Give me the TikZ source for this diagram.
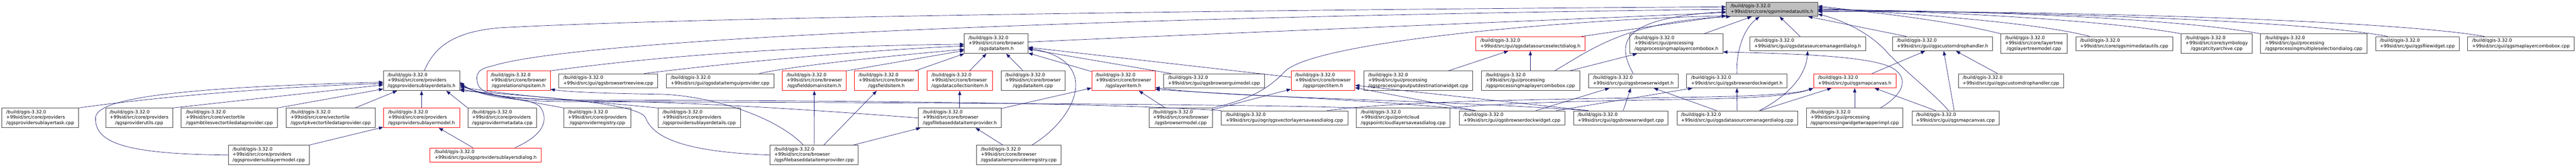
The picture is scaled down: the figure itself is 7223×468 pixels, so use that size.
\documentclass[tikz,border=0pt]{standalone}
\usepackage{fontspec}
\setmainfont{DejaVu Sans}
\usepackage{tikz}
\usetikzlibrary{arrows.meta}
\definecolor{edgeblue}{HTML}{191970}
\definecolor{boxgrey}{HTML}{404040}
\definecolor{focusgrey}{HTML}{BFBFBF}
\newcommand{\fthree}[2]{\begin{tabular}{@{}l@{}}/build/qgis-3.32.0\\#1\\\multicolumn{1}{@{}c@{}}{#2}\end{tabular}}
\newcommand{\ftwo}[1]{\begin{tabular}{@{}l@{}}/build/qgis-3.32.0\\#1\end{tabular}}

\begin{document}
\begin{tikzpicture}[x=1pt, y=-1pt, main/.style={draw=boxgrey, fill=white, rectangle, line width=1pt, inner xsep=10pt, inner ysep=0pt, font=\fontsize{12.8}{15}\selectfont}, tall/.style={minimum height=55pt}, low/.style={minimum height=40pt}, trunc/.style={draw=red}, focus/.style={fill=focusgrey}, n/.style={-{Triangle[length=12pt, width=9pt]}, draw=edgeblue, line width=1pt}]
            \useasboundingbox (0,0) rectangle (7223,468);
            % nodes
            \node[main, low, focus, minimum width=257pt] (a) at (4968.5,26) {\ftwo{+99sid/src/core/qgsmimedatautils.h}};

            \node[main, tall, minimum width=179pt] (b1) at (2793.5,122.5) {\fthree{+99sid/src/core/browser}{/qgsdataitem.h}};
            \node[main, low, trunc, minimum width=306pt] (b2) at (4291,122.5) {\ftwo{+99sid/src/gui/qgsdatasourceselectdialog.h}};
            \node[main, tall, minimum width=261pt] (b3) at (4700.5,122.5) {\fthree{+99sid/src/gui/processing}{/qgsprocessingmaplayercombobox.h}};
            \node[main, low, minimum width=325pt] (b4) at (5068.5,122.5) {\ftwo{+99sid/src/gui/qgsdatasourcemanagerdialog.h}};
            \node[main, low, minimum width=279pt] (b5) at (5446.5,122.5) {\ftwo{+99sid/src/gui/qgscustomdrophandler.h}};
            \node[main, tall, minimum width=186pt] (b6) at (5703,122.5) {\fthree{+99sid/src/core/layertree}{/qgslayertreemodel.cpp}};
            \node[main, low, minimum width=272pt] (b7) at (5956,122.5) {\ftwo{+99sid/src/core/qgsmimedatautils.cpp}};
            \node[main, tall, minimum width=199pt] (b8) at (6215.5,122.5) {\fthree{+99sid/src/core/symbology}{/qgscptcityarchive.cpp}};
            \node[main, tall, minimum width=299pt] (b9) at (6487.5,122.5) {\fthree{+99sid/src/gui/processing}{/qgsprocessingmultipleselectiondialog.cpp}};
            \node[main, low, minimum width=234pt] (b10) at (6778,122.5) {\ftwo{+99sid/src/gui/qgsfilewidget.cpp}};
            \node[main, low, minimum width=299pt] (b11) at (7068.5,122.5) {\ftwo{+99sid/src/gui/qgsmaplayercombobox.cpp}};

            \node[main, tall, minimum width=214pt] (c1) at (1182,226.5) {\fthree{+99sid/src/core/providers}{/qgsprovidersublayerdetails.h}};
            \node[main, tall, trunc, minimum width=178pt] (c2) at (1454,226.5) {\fthree{+99sid/src/core/browser}{/qgsrelationshipsitem.h}};
            \node[main, low, minimum width=277pt] (c3) at (1705.5,226.5) {\ftwo{+99sid/src/gui/qgsbrowsertreeview.cpp}};
            \node[main, low, minimum width=302pt] (c4) at (2019,226.5) {\ftwo{+99sid/src/gui/qgsdataitemguiprovider.cpp}};
            \node[main, tall, trunc, minimum width=179pt] (c5) at (2283.5,226.5) {\fthree{+99sid/src/core/browser}{/qgsfielddomainsitem.h}};
            \node[main, tall, trunc, minimum width=179pt] (c6) at (2485.5,226.5) {\fthree{+99sid/src/core/browser}{/qgsfieldsitem.h}};
            \node[main, tall, trunc, minimum width=184pt] (c7) at (2691,226.5) {\fthree{+99sid/src/core/browser}{/qgsdatacollectionitem.h}};
            \node[main, tall, minimum width=179pt] (c8) at (2896.5,226.5) {\fthree{+99sid/src/core/browser}{/qgsdataitem.cpp}};
            \node[main, tall, trunc, minimum width=178pt] (c9) at (3150,226.5) {\fthree{+99sid/src/core/browser}{/qgslayeritem.h}};
            \node[main, low, minimum width=282pt] (c10) at (3404,226.5) {\ftwo{+99sid/src/gui/qgsbrowserguimodel.cpp}};
            \node[main, tall, trunc, minimum width=179pt] (c11) at (3709.5,226.5) {\fthree{+99sid/src/core/browser}{/qgsprojectitem.h}};
            \node[main, tall, minimum width=305pt] (c12) at (3976.5,226.5) {\fthree{+99sid/src/gui/processing}{/qgsprocessingoutputdestinationwidget.cpp}};
            \node[main, tall, minimum width=276pt] (c13) at (4291,226.5) {\fthree{+99sid/src/gui/processing}{/qgsprocessingmaplayercombobox.cpp}};
            \node[main, low, minimum width=251pt] (c14) at (4579.5,226.5) {\ftwo{+99sid/src/gui/qgsbrowserwidget.h}};
            \node[main, low, minimum width=282pt] (c15) at (4870,226.5) {\ftwo{+99sid/src/gui/qgsbrowserdockwidget.h}};
            \node[main, low, trunc, minimum width=231pt] (c16) at (5200.5,226.5) {\ftwo{+99sid/src/gui/qgsmapcanvas.h}};
            \node[main, low, minimum width=295pt] (c17) at (5638.5,226.5) {\ftwo{+99sid/src/gui/qgscustomdrophandler.cpp}};

            \node[main, tall, minimum width=215pt] (d1) at (112.5,330.5) {\fthree{+99sid/src/core/providers}{/qgsprovidersublayertask.cpp}};
            \node[main, tall, minimum width=188pt] (d2) at (390,330.5) {\fthree{+99sid/src/core/providers}{/qgsproviderutils.cpp}};
            \node[main, tall, minimum width=270pt] (d3) at (643,330.5) {\fthree{+99sid/src/core/vectortile}{/qgsmbtilesvectortiledataprovider.cpp}};
            \node[main, tall, minimum width=250pt] (d4) at (927,330.5) {\fthree{+99sid/src/core/vectortile}{/qgsvtpkvectortiledataprovider.cpp}};
            \node[main, tall, trunc, minimum width=214pt] (d5) at (1182,330.5) {\fthree{+99sid/src/core/providers}{/qgsprovidersublayermodel.h}};
            \node[main, tall, minimum width=193pt] (d6) at (1408.5,330.5) {\fthree{+99sid/src/core/providers}{/qgsprovidermetadata.cpp}};
            \node[main, tall, minimum width=188pt] (d7) at (1675,330.5) {\fthree{+99sid/src/core/providers}{/qgsproviderregistry.cpp}};
            \node[main, tall, minimum width=231pt] (d8) at (1960.5,330.5) {\fthree{+99sid/src/core/providers}{/qgsprovidersublayerdetails.cpp}};
            \node[main, tall, minimum width=232pt] (d9) at (2691,330.5) {\fthree{+99sid/src/core/browser}{/qgsfilebaseddataitemprovider.h}};
            \node[main, tall, minimum width=178pt] (d10) at (3311,330.5) {\fthree{+99sid/src/core/browser}{/qgsbrowsermodel.cpp}};
            \node[main, low, minimum width=355pt] (d11) at (3601.5,330.5) {\ftwo{+99sid/src/gui/ogr/qgsvectorlayersaveasdialog.cpp}};
            \node[main, tall, minimum width=263pt] (d12) at (3934.5,330.5) {\fthree{+99sid/src/gui/pointcloud}{/qgspointcloudlayersaveasdialog.cpp}};
            \node[main, low, minimum width=295pt] (d13) at (4239.5,330.5) {\ftwo{+99sid/src/gui/qgsbrowserdockwidget.cpp}};
            \node[main, low, minimum width=265pt] (d14) at (4544.5,330.5) {\ftwo{+99sid/src/gui/qgsbrowserwidget.cpp}};
            \node[main, low, minimum width=338pt] (d15) at (4871,330.5) {\ftwo{+99sid/src/gui/qgsdatasourcemanagerdialog.cpp}};
            \node[main, tall, minimum width=271pt] (d16) at (5200.5,330.5) {\fthree{+99sid/src/gui/processing}{/qgsprocessingwidgetwrapperimpl.cpp}};
            \node[main, low, minimum width=244pt] (d17) at (5483,330.5) {\ftwo{+99sid/src/gui/qgsmapcanvas.cpp}};

            \node[main, tall, minimum width=227pt] (e1) at (753.5,434.5) {\fthree{+99sid/src/core/providers}{/qgsprovidersublayermodel.cpp}};
            \node[main, low, trunc, minimum width=311pt] (e2) at (1361.5,434.5) {\ftwo{+99sid/src/gui/qgsprovidersublayersdialog.h}};
            \node[main, tall, minimum width=247pt] (e3) at (2282.5,434.5) {\fthree{+99sid/src/core/browser}{/qgsfilebaseddataitemprovider.cpp}};
            \node[main, tall, minimum width=237pt] (e4) at (2856.5,434.5) {\fthree{+99sid/src/core/browser}{/qgsdataitemproviderregistry.cpp}};
            % edges
            \draw[n] (e1.west) .. controls (350,432) and (265,400) .. (268,330) .. controls (270,275) and (500,245) .. (c1.182);
            \draw[n] (d1.north east) .. controls (450,270) and (800,242) .. (c1.184);
            \draw[n] (d2.north east) -- (c1.186);
            \draw[n] (d3.north east) -- (c1.192);
            \draw[n] (d4) -- (c1);
            \draw[n] (d5) -- (c1);
            \draw[n] (e1.north east) -- (d5);
            \draw[n] (e2) -- (d5);
            \draw[n] (d6.north west) -- (c1.-22);
            \draw[n] (d7.north west) -- (c1.-12);
            \draw[n] (d8.north west) .. controls (1700,288) and (1450,270) .. (c1.-9);
            \draw[n] (d9.west) .. controls (2300,310) and (2000,288) .. (1650,282) .. controls (1420,279) and (1340,262) .. (c1.-6);
            \draw[n] (e3.west) .. controls (1900,425) and (1830,380) .. (1810,330) .. controls (1790,285) and (1450,268) .. (c1.-14);
            \draw[n] ([xshift=-30pt]e3.north) .. controls (2180,330) and (2000,268) .. (1850,264) .. controls (1700,262) and (1600,258) .. (c2.-15);
            \draw[n] (d11.north west) .. controls (3000,282) and (2000,282) .. (1600,280) .. controls (1400,279) and (1330,260) .. (c1.-4);
            \draw[n] (d12.north west) .. controls (3500,290) and (2000,286) .. (1600,285) .. controls (1400,284) and (1330,262) .. (c1.-2);

            \draw[n] (e2.14) .. controls (1510,385) and (1545,345) .. (1515,300) .. controls (1490,270) and (1350,280) .. (1340,235) .. controls (1330,205) and (1345,192) .. (1380,185) .. controls (1650,100) and (3300,45) .. (a.180);
            \draw[n] (c1.75) .. controls (1215,140) and (1260,90) .. (1400,78) .. controls (2000,45) and (3800,25) .. (a.177);
            \draw[n] (b1.3) .. controls (3300,98) and (4400,55) .. (a.184);
            \draw[n] (d10.north east) .. controls (3520,275) and (3565,240) .. (3605,198) .. controls (3700,115) and (4400,55) .. (a.188);

            \draw[n] (c2.north east) .. controls (1900,150) and (2300,128) .. (b1.181);
            \draw[n] ([xshift=101pt]c3.north) .. controls (2100,170) and (2450,140) .. (b1.184);
            \draw[n] ([xshift=110pt]c4.north) .. controls (2200,190) and (2400,165) .. (b1.190);
            \draw[n] (c5.north east) -- (b1.192);
            \draw[n] (c6) -- (b1.south west);
            \draw[n] (c7) -- (b1);
            \draw[n] (c8) -- (b1);
            \draw[n] (c9) -- (b1);
            \draw[n] (c10) -- (b1);
            \draw[n] (c11) -- (b1);
            \draw[n] ([xshift=37pt]e4.north) .. controls (3020,330) and (3090,170) .. (b1.-8);
            \draw[n] (d9) -- (c7);
            \draw[n] (e3) -- (c5);
            \draw[n] (e3) -- (c6);
            \draw[n] (e3) -- (d9);
            \draw[n] (e4) -- (d9);
            \draw[n] (d9) -- (c9);
            \draw[n] (d10) -- (c9);
            \draw[n] (d10) -- (c11);
            \draw[n] ([xshift=45pt]d13.north west) -- (c11.-12);
            \draw[n] ([xshift=42pt]d14.north west) -- (c11.-8);
            \draw[n] ([xshift=45pt]d13.north west) .. controls (3900,282) and (3500,268) .. (c9.-15);
            \draw[n] ([xshift=42pt]d14.north west) .. controls (4000,278) and (3450,275) .. (c9.-12);

            \draw[n] (c12) -- (b2);
            \draw[n] (c13) -- (b2);
            \draw[n] (c13) -- (b3);
            \draw[n] ([xshift=68pt]c13.north) .. controls (4460,140) and (4560,60) .. (a.190);
            \draw[n] (b2) -- (a);
            \draw[n] (c14.north) .. controls (4525,110) and (4560,50) .. (a.183);
            \draw[n] (d13) -- (c14);
            \draw[n] (d14) -- (c14);
            \draw[n] (d15) -- (c14);
            \draw[n] (d13) -- (c15);
            \draw[n] (d15) -- (c15);
            \draw[n] (d15) -- (c16);
            \draw[n] ([xshift=62pt]d15.north) .. controls (5030,260) and (5065,200) .. (b4.south);
            \draw[n] (c15.north) .. controls (4868,140) and (4890,80) .. ([xshift=-35pt]a.south);
            \draw[n] (b3) -- (a);
            \draw[n] (b4) -- (a);
            \draw[n] (d16) -- (c16);
            \draw[n] (d17) -- (c16);
            \draw[n] (c16) -- (b5);
            \draw[n] (c17) -- (b5);
            \draw[n] (d17) -- (b5);
            \draw[n] ([xshift=72pt]d16.north) .. controls (5345,260) and (5350,215) .. (5305,190) .. controls (5240,155) and (5000,150) .. (b3.-10);
            \draw[n] ([xshift=-19pt]d17.north) .. controls (5420,260) and (5330,190) .. (5290,145) .. controls (5250,100) and (5180,60) .. (a.-6);
            \draw[n] (b5) -- (a);
            \draw[n] ([xshift=120pt]d11.north) .. controls (3900,285) and (4300,278) .. (4700,273) .. controls (4950,270) and (5040,262) .. (c16.south west);
            \draw[n] (d12.north east) .. controls (4200,288) and (4500,282) .. (4750,278) .. controls (4950,275) and (5040,264) .. (c16.south west);

            \draw[n] (b6.north west) .. controls (5450,55) and (5250,35) .. (a.4);
            \draw[n] ([xshift=40pt]b7.north west) .. controls (5700,60) and (5300,35) .. (a.2);
            \draw[n] (b8.north west) .. controls (5900,55) and (5400,30) .. (a.east);
            \draw[n] (b9.north west) .. controls (6100,50) and (5500,28) .. (a.-1);
            \draw[n] ([xshift=34pt]b10.north west) .. controls (6450,55) and (5600,30) .. (a.-2);
            \draw[n] ([xshift=47pt]b11.north west) .. controls (6700,55) and (5700,28) .. (a.-3);
        \end{tikzpicture}
\end{document}
